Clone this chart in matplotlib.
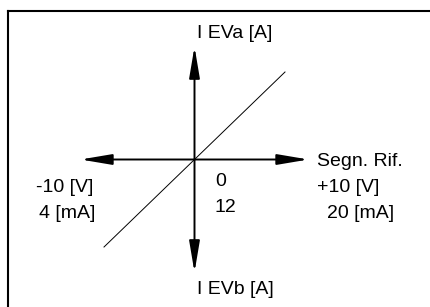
import matplotlib
matplotlib.use("Agg")
import matplotlib.pyplot as plt
from matplotlib.lines import Line2D

# -------- data --------
# reference signal (V) and matching current (mA) at the ends of the range
signal_v = [-10, 10]
signal_ma = [4, 20]
# valve current, normalised to the same -10..10 span (EVb negative, EVa positive)
valve_i = [-10, 10]
axis_reach_x = 12.6      # length of the horizontal axis arrows
axis_reach_y = 12.9      # length of the vertical axis arrows

W, H = 431, 307
plt.rcParams["font.family"] = ["Liberation Sans", "DejaVu Sans"]

fig = plt.figure(figsize=(W / 100, H / 100), dpi=100)
fig.patch.set_facecolor("white")
ax = fig.add_axes([0, 0, 1, 1])
ax.set_axis_off()

# pixel layout of the chart: -10..10 spans x 104..285 and y 247..72
sx = (285 - 104) / 20.0
sy = (247 - 72) / 20.0
ax.set_xlim(-10 - 104 / sx, 10 + (W - 285) / sx)
ax.set_ylim(-10 - (H - 247) / sy, 10 + 72 / sy)


def px(x, y):
    return x / W, 1 - y / H


# frame (left and top only, runs off the image)
fig.add_artist(Line2D([8 / W, 8 / W], [0, 1 - 11 / H], color="black", lw=1.5))
fig.add_artist(Line2D([8 / W, 1], [1 - 11 / H, 1 - 11 / H], color="black", lw=1.5))

# axis arrows
arrow_kw = dict(arrowstyle="-|>,head_length=19,head_width=3.2", mutation_scale=1,
                color="black", lw=1.4, shrinkA=0, shrinkB=0)
for end in [(axis_reach_x, 0), (-axis_reach_x, 0), (0, axis_reach_y), (0, -axis_reach_y)]:
    ax.annotate("", xy=end, xytext=(0, 0), arrowprops=arrow_kw)

# characteristic line
ax.plot(signal_v, valve_i, color="black", lw=0.7)

fs = 14
fig.text(*px(197, 33), "I EVa [A]", fontsize=fs, ha="left", va="center")
fig.text(*px(197, 289), "I EVb [A]", fontsize=fs, ha="left", va="center")
fig.text(*px(317, 162), "Segn. Rif.", fontsize=fs, ha="left", va="center")
fig.text(*px(317, 188), f"+{signal_v[1]} [V]", fontsize=fs, ha="left", va="center")
fig.text(*px(327, 214), f"{signal_ma[1]} [mA]", fontsize=fs, ha="left", va="center")
fig.text(*px(36, 188), f"{signal_v[0]} [V]", fontsize=fs, ha="left", va="center")
fig.text(*px(39, 214), f"{signal_ma[0]} [mA]", fontsize=fs, ha="left", va="center")
fig.text(*px(215, 181), "0", fontsize=fs, ha="left", va="center")
fig.text(*px(215, 208), f"{(signal_ma[0] + signal_ma[1]) // 2}", fontsize=fs,
         ha="left", va="center")

fig.savefig("out.png", dpi=100, facecolor="white")
